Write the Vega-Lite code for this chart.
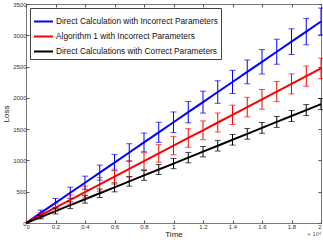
{
  "$schema": "https://vega.github.io/schema/vega-lite/v6.json",
  "width": 295,
  "height": 219,
  "autosize": {"type": "none"},
  "padding": {"left": 26, "top": 4, "right": 2, "bottom": 19},
  "background": "white",
  "config": {
    "view": {"stroke": "#7a7a7a", "strokeWidth": 1},
    "font": "Liberation Sans",
    "axis": {"grid": false, "domain": false, "tickColor": "#555555", "labelColor": "#333333", "labelFontSize": 6, "titleFontWeight": "normal", "titleColor": "#222222"}
  },
  "datasets": {
    "d": [
      {"t": 0, "series": "Direct Calculation with Incorrect Parameters", "loss": 0, "lo": 0, "hi": 0},
      {"t": 0.1, "series": "Direct Calculation with Incorrect Parameters", "loss": 161, "lo": 116, "hi": 206},
      {"t": 0.2, "series": "Direct Calculation with Incorrect Parameters", "loss": 322, "lo": 252, "hi": 392},
      {"t": 0.3, "series": "Direct Calculation with Incorrect Parameters", "loss": 483, "lo": 393, "hi": 573},
      {"t": 0.4, "series": "Direct Calculation with Incorrect Parameters", "loss": 644, "lo": 539, "hi": 749},
      {"t": 0.5, "series": "Direct Calculation with Incorrect Parameters", "loss": 805, "lo": 685, "hi": 925},
      {"t": 0.6, "series": "Direct Calculation with Incorrect Parameters", "loss": 966, "lo": 836, "hi": 1096},
      {"t": 0.7, "series": "Direct Calculation with Incorrect Parameters", "loss": 1127, "lo": 987, "hi": 1267},
      {"t": 0.8, "series": "Direct Calculation with Incorrect Parameters", "loss": 1288, "lo": 1138, "hi": 1438},
      {"t": 0.9, "series": "Direct Calculation with Incorrect Parameters", "loss": 1449, "lo": 1289, "hi": 1609},
      {"t": 1.0, "series": "Direct Calculation with Incorrect Parameters", "loss": 1610, "lo": 1445, "hi": 1775},
      {"t": 1.1, "series": "Direct Calculation with Incorrect Parameters", "loss": 1771, "lo": 1601, "hi": 1941},
      {"t": 1.2, "series": "Direct Calculation with Incorrect Parameters", "loss": 1932, "lo": 1757, "hi": 2107},
      {"t": 1.3, "series": "Direct Calculation with Incorrect Parameters", "loss": 2093, "lo": 1913, "hi": 2273},
      {"t": 1.4, "series": "Direct Calculation with Incorrect Parameters", "loss": 2254, "lo": 2069, "hi": 2439},
      {"t": 1.5, "series": "Direct Calculation with Incorrect Parameters", "loss": 2415, "lo": 2225, "hi": 2605},
      {"t": 1.6, "series": "Direct Calculation with Incorrect Parameters", "loss": 2576, "lo": 2381, "hi": 2771},
      {"t": 1.7, "series": "Direct Calculation with Incorrect Parameters", "loss": 2737, "lo": 2537, "hi": 2937},
      {"t": 1.8, "series": "Direct Calculation with Incorrect Parameters", "loss": 2898, "lo": 2693, "hi": 3103},
      {"t": 1.9, "series": "Direct Calculation with Incorrect Parameters", "loss": 3059, "lo": 2849, "hi": 3269},
      {"t": 2.0, "series": "Direct Calculation with Incorrect Parameters", "loss": 3220, "lo": 3005, "hi": 3435},
      {"t": 0, "series": "Algorithm 1 with Incorrect Parameters", "loss": 0, "lo": 0, "hi": 0},
      {"t": 0.1, "series": "Algorithm 1 with Incorrect Parameters", "loss": 124, "lo": 84, "hi": 164},
      {"t": 0.2, "series": "Algorithm 1 with Incorrect Parameters", "loss": 247, "lo": 187, "hi": 307},
      {"t": 0.3, "series": "Algorithm 1 with Incorrect Parameters", "loss": 371, "lo": 291, "hi": 451},
      {"t": 0.4, "series": "Algorithm 1 with Incorrect Parameters", "loss": 494, "lo": 399, "hi": 589},
      {"t": 0.5, "series": "Algorithm 1 with Incorrect Parameters", "loss": 618, "lo": 508, "hi": 728},
      {"t": 0.6, "series": "Algorithm 1 with Incorrect Parameters", "loss": 741, "lo": 621, "hi": 861},
      {"t": 0.7, "series": "Algorithm 1 with Incorrect Parameters", "loss": 865, "lo": 737, "hi": 993},
      {"t": 0.8, "series": "Algorithm 1 with Incorrect Parameters", "loss": 988, "lo": 853, "hi": 1123},
      {"t": 0.9, "series": "Algorithm 1 with Incorrect Parameters", "loss": 1112, "lo": 972, "hi": 1252},
      {"t": 1.0, "series": "Algorithm 1 with Incorrect Parameters", "loss": 1235, "lo": 1090, "hi": 1380},
      {"t": 1.1, "series": "Algorithm 1 with Incorrect Parameters", "loss": 1359, "lo": 1211, "hi": 1507},
      {"t": 1.2, "series": "Algorithm 1 with Incorrect Parameters", "loss": 1482, "lo": 1332, "hi": 1632},
      {"t": 1.3, "series": "Algorithm 1 with Incorrect Parameters", "loss": 1606, "lo": 1454, "hi": 1758},
      {"t": 1.4, "series": "Algorithm 1 with Incorrect Parameters", "loss": 1729, "lo": 1575, "hi": 1883},
      {"t": 1.5, "series": "Algorithm 1 with Incorrect Parameters", "loss": 1853, "lo": 1697, "hi": 2009},
      {"t": 1.6, "series": "Algorithm 1 with Incorrect Parameters", "loss": 1976, "lo": 1818, "hi": 2134},
      {"t": 1.7, "series": "Algorithm 1 with Incorrect Parameters", "loss": 2100, "lo": 1940, "hi": 2260},
      {"t": 1.8, "series": "Algorithm 1 with Incorrect Parameters", "loss": 2223, "lo": 2063, "hi": 2383},
      {"t": 1.9, "series": "Algorithm 1 with Incorrect Parameters", "loss": 2347, "lo": 2185, "hi": 2509},
      {"t": 2.0, "series": "Algorithm 1 with Incorrect Parameters", "loss": 2470, "lo": 2305, "hi": 2635},
      {"t": 0, "series": "Direct Calculations with Correct Parameters", "loss": 0, "lo": 0, "hi": 0},
      {"t": 0.1, "series": "Direct Calculations with Correct Parameters", "loss": 95, "lo": 65, "hi": 125},
      {"t": 0.2, "series": "Direct Calculations with Correct Parameters", "loss": 190, "lo": 145, "hi": 235},
      {"t": 0.3, "series": "Direct Calculations with Correct Parameters", "loss": 285, "lo": 230, "hi": 340},
      {"t": 0.4, "series": "Direct Calculations with Correct Parameters", "loss": 380, "lo": 318, "hi": 442},
      {"t": 0.5, "series": "Direct Calculations with Correct Parameters", "loss": 475, "lo": 407, "hi": 543},
      {"t": 0.6, "series": "Direct Calculations with Correct Parameters", "loss": 570, "lo": 498, "hi": 642},
      {"t": 0.7, "series": "Direct Calculations with Correct Parameters", "loss": 665, "lo": 589, "hi": 741},
      {"t": 0.8, "series": "Direct Calculations with Correct Parameters", "loss": 760, "lo": 682, "hi": 838},
      {"t": 0.9, "series": "Direct Calculations with Correct Parameters", "loss": 855, "lo": 775, "hi": 935},
      {"t": 1.0, "series": "Direct Calculations with Correct Parameters", "loss": 950, "lo": 868, "hi": 1032},
      {"t": 1.1, "series": "Direct Calculations with Correct Parameters", "loss": 1045, "lo": 962, "hi": 1128},
      {"t": 1.2, "series": "Direct Calculations with Correct Parameters", "loss": 1140, "lo": 1056, "hi": 1224},
      {"t": 1.3, "series": "Direct Calculations with Correct Parameters", "loss": 1235, "lo": 1150, "hi": 1320},
      {"t": 1.4, "series": "Direct Calculations with Correct Parameters", "loss": 1330, "lo": 1245, "hi": 1415},
      {"t": 1.5, "series": "Direct Calculations with Correct Parameters", "loss": 1425, "lo": 1339, "hi": 1511},
      {"t": 1.6, "series": "Direct Calculations with Correct Parameters", "loss": 1520, "lo": 1434, "hi": 1606},
      {"t": 1.7, "series": "Direct Calculations with Correct Parameters", "loss": 1615, "lo": 1528, "hi": 1702},
      {"t": 1.8, "series": "Direct Calculations with Correct Parameters", "loss": 1710, "lo": 1623, "hi": 1797},
      {"t": 1.9, "series": "Direct Calculations with Correct Parameters", "loss": 1805, "lo": 1717, "hi": 1893},
      {"t": 2.0, "series": "Direct Calculations with Correct Parameters", "loss": 1900, "lo": 1811, "hi": 1989}
    ],
    "note": [{"t": 2, "loss": 0, "txt": "× 10⁴"}]
  },
  "resolve": {"axis": {"x": "independent", "y": "independent"}},
  "layer": [
    {
      "data": {"name": "d"},
      "mark": {"type": "line", "strokeWidth": 2},
      "encoding": {
        "x": {"field": "t", "type": "quantitative", "scale": {"domain": [0, 2], "nice": false},
              "axis": {"orient": "bottom", "values": [0, 0.2, 0.4, 0.6, 0.8, 1, 1.2, 1.4, 1.6, 1.8, 2], "format": "~g", "tickSize": -3, "labelPadding": 3, "title": "Time", "titleFontSize": 8, "titlePadding": 1}},
        "y": {"field": "loss", "type": "quantitative", "scale": {"domain": [0, 3500], "nice": false},
              "axis": {"orient": "left", "values": [0, 500, 1000, 1500, 2000, 2500, 3000, 3500], "format": "d", "tickSize": -3, "labelPadding": 3, "title": "Loss", "titleFontSize": 8, "titlePadding": 2}},
        "color": {"field": "series", "type": "nominal",
                  "scale": {"domain": ["Direct Calculation with Incorrect Parameters", "Algorithm 1 with Incorrect Parameters", "Direct Calculations with Correct Parameters"], "range": ["#0000ff", "#ff0000", "#000000"]},
                  "legend": {"title": null, "orient": "none", "legendX": 4, "legendY": 4, "symbolType": "stroke", "symbolStrokeWidth": 2, "symbolSize": 360, "labelFontSize": 8.3, "labelColor": "#111111", "labelLimit": 400, "labelOffset": 2, "rowPadding": -1, "padding": 3, "strokeColor": "#444444", "fillColor": "white", "symbolOffset": 0}}
      }
    },
    {
      "data": {"name": "d"},
      "transform": [{"filter": "datum.t > 0"}],
      "mark": {"type": "errorbar", "ticks": {"size": 6}, "thickness": 1},
      "encoding": {
        "x": {"field": "t", "type": "quantitative", "axis": {"orient": "top", "values": [0, 0.2, 0.4, 0.6, 0.8, 1, 1.2, 1.4, 1.6, 1.8, 2], "tickSize": -3, "labels": false, "title": null}},
        "y": {"field": "lo", "type": "quantitative", "axis": {"orient": "right", "values": [0, 500, 1000, 1500, 2000, 2500, 3000, 3500], "tickSize": -3, "labels": false, "title": null}},
        "y2": {"field": "hi"},
        "color": {"field": "series", "type": "nominal", "legend": null}
      }
    },
    {
      "data": {"name": "note"},
      "mark": {"type": "text", "fontSize": 5, "font": "DejaVu Sans", "align": "right", "baseline": "top", "dy": 9, "color": "#444444"},
      "encoding": {
        "x": {"field": "t", "type": "quantitative", "axis": null},
        "y": {"field": "loss", "type": "quantitative", "axis": null},
        "text": {"field": "txt"}
      }
    }
  ]
}
